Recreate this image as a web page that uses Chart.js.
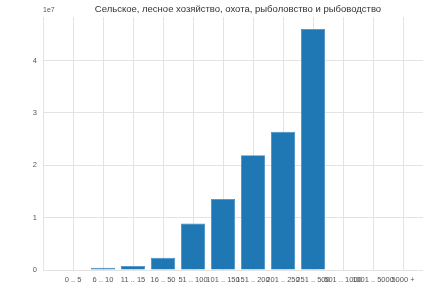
<!DOCTYPE html>
<html>
<head>
<meta charset="utf-8">
<script src="https://cdn.jsdelivr.net/npm/chart.js@4/dist/chart.umd.min.js"></script>
<style>
  html, body { margin: 0; padding: 0; background: #fff; overflow: hidden; }
  #wrap { position: relative; width: 440px; height: 297px; }
</style>
</head>
<body>
<div id="wrap"><canvas id="chart"></canvas></div>
<script>
const chartTitle = "Сельское, лесное хозяйство, охота, рыболовство и рыбоводство";
const categories = ["0 .. 5", "6 .. 10", "11 .. 15", "16 .. 50", "51 .. 100", "101 .. 150",
  "151 .. 200", "201 .. 250", "251 .. 500", "501 .. 1000", "1001 .. 5000", "5000 +"];
const values = [0, 4.2e5, 7.6e5, 2.35e6, 8.9e6, 1.355e7, 2.19e7, 2.64e7, 4.6e7, 0, 0, 0];
const yTicks = [0, 1, 2, 3, 4];
const yScaleExp = 1e7;

const fontFamily = "'Liberation Sans', Arial, sans-serif";
const gridColor = "#e3e3e3";

// draws the "1e7" offset text above the y axis
const offsetText = {
  id: "offsetText",
  afterDraw(chart) {
    const { ctx, chartArea } = chart;
    ctx.save();
    ctx.fillStyle = "#555";
    ctx.font = "7px " + fontFamily;
    ctx.textBaseline = "bottom";
    ctx.fillText("1e7", chartArea.left, chartArea.top - 3);
    ctx.restore();
  },
};

const ctx = document.getElementById("chart").getContext("2d");
new Chart(ctx, {
  type: "bar",
  data: {
    datasets: [
      {
        data: categories.map((c, i) => ({ x: i, y: values[i] })),
        backgroundColor: "#1f77b4",
        borderColor: "#3d8cc4",
        borderWidth: 0.8,
        barPercentage: 0.8,
        categoryPercentage: 1,
      },
    ],
  },
  options: {
    responsive: true,
    maintainAspectRatio: false,
    animation: false,
    layout: { padding: { left: 0, right: 7, top: 0, bottom: 0 } },
    plugins: {
      legend: { display: false },
      tooltip: { enabled: false },
      title: {
        display: true,
        text: chartTitle,
        fullSize: false,
        color: "#333",
        font: { family: fontFamily, size: 9.5, weight: "normal" },
        padding: { top: 3.5, bottom: 2.1 },
      },
    },
    scales: {
      x: {
        type: "linear",
        min: -1,
        max: 12,
        offset: false,
        grid: { color: gridColor, drawTicks: false, lineWidth: 1, offset: false },
        border: { color: gridColor },
        ticks: {
          stepSize: 1,
          maxTicksLimit: 20,
          autoSkip: false,
          maxRotation: 0,
          minRotation: 0,
          padding: 5,
          color: "#555",
          font: { family: fontFamily, size: 7.5 },
          callback: (v) => categories[v] ?? "",
        },
        afterFit(scale) {
          scale.height = 27;
        },
      },
      y: {
        min: 0,
        max: 4.83e7,
        grid: { color: gridColor, drawTicks: false, lineWidth: 1 },
        border: { color: gridColor },
        afterBuildTicks(scale) {
          scale.ticks = yTicks.map((t) => ({ value: t * yScaleExp }));
        },
        ticks: {
          padding: 6,
          color: "#555",
          font: { family: fontFamily, size: 7.5 },
          callback: (v) => String(Math.round(v / yScaleExp)),
        },
        afterFit(scale) {
          scale.width = 43;
        },
      },
    },
  },
  plugins: [offsetText],
});
</script>
</body>
</html>
